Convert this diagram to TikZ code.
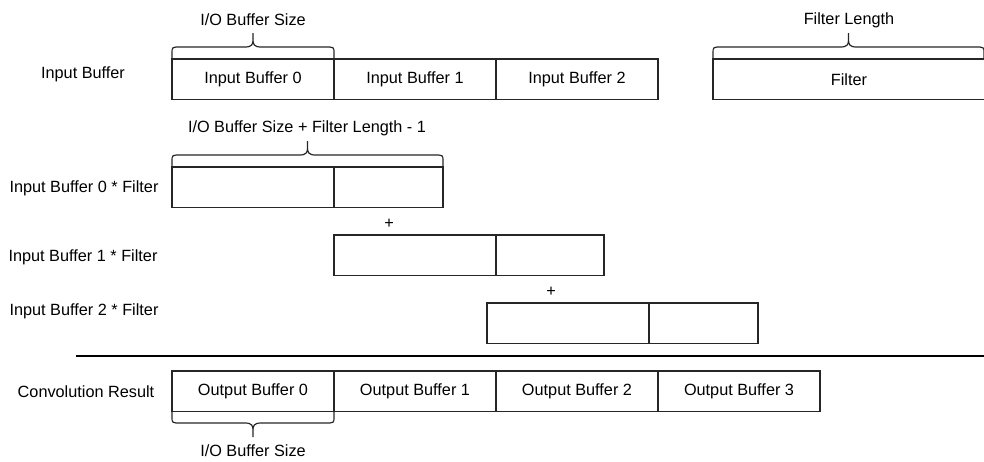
\documentclass[tikz,border=0pt]{standalone}
\usepackage{fontspec}
\setmainfont{Liberation Sans}
\newlength\pxu
\setlength\pxu{0.75pt}
% curly brace: #1 left x, #2 right x, #3 foot y, #4 bar y, #5 tip y
\newcommand\curlybrace[5]{%
  \pgfmathsetmacro\bmid{(#1+#2)/2}%
  \pgfmathsetmacro\bh{#3-#4}%
  \pgfmathsetmacro\bt{#4-#5}%
  \draw[bracestroke] (#1,#3) -- (#1,{#4+0.5*\bh})
    .. controls (#1,#4) .. ({#1+9},#4) -- ({\bmid-8},#4)
    .. controls ({\bmid-1},#4) and (\bmid,{#4-0.2*\bt}) .. (\bmid,{#4-0.5*\bt})
    -- (\bmid,#5) -- (\bmid,{#4-0.5*\bt})
    .. controls (\bmid,{#4-0.2*\bt}) and ({\bmid+1},#4) .. ({\bmid+8},#4)
    -- ({#2-9},#4) .. controls (#2,#4) .. (#2,{#4+0.5*\bh}) -- (#2,#3);%
}
\tikzset{
  cell/.style={draw=black!85, line width=0.9pt, anchor=north west,
    inner sep=0pt, outer sep=0pt, minimum height=40.5*\pxu,
    font=\fontsize{12.2}{14}\selectfont},
  wide/.style={minimum width=162*\pxu},
  label/.style={inner sep=0pt, font=\fontsize{12.2}{14}\selectfont},
  bracestroke/.style={draw=black!85, line width=0.9pt},
  rule/.style={draw=black, line width=1.6pt}
}
\begin{document}
\begin{tikzpicture}[x=0.75pt, y=-0.75pt]
\useasboundingbox (0,0) rectangle (984,461);

% input buffers and the filter
\node[cell, wide] (ib0) at (172,59) {Input Buffer 0};
\node[cell, wide] (ib1) at (334,59) {Input Buffer 1};
\node[cell, wide] (ib2) at (496,59) {Input Buffer 2};
\node[cell, minimum width=272*\pxu] (flt) at (713,59) {Filter};
\node[label] (lin) at (83,74) {Input Buffer};
\curlybrace{172}{334}{59}{47}{33}
\node[label] (lio) at (253,20) {I/O Buffer Size};
\curlybrace{713}{984}{59}{47}{33}
\node[label] (lfl) at (849,20) {Filter Length};

% partial convolutions
\node[cell, wide] (p0a) at (172,167) {};
\node[cell, minimum width=109*\pxu] (p0b) at (334,167) {};
\node[label] (l0) at (84,188) {Input Buffer 0 * Filter};
\curlybrace{172}{443}{167}{155}{141}
\node[label] (lsum) at (307,128) {I/O Buffer Size + Filter Length - 1};

\node[label] (plus1) at (389,224) {+};
\node[cell, wide] (p1a) at (334,235) {};
\node[cell, minimum width=108*\pxu] (p1b) at (496,235) {};
\node[label] (l1) at (83,257) {Input Buffer 1 * Filter};

\node[label] (plus2) at (551,292) {+};
\node[cell, wide] (p2a) at (487,303) {};
\node[cell, minimum width=109*\pxu] (p2b) at (649,303) {};
\node[label] (l2) at (84,311) {Input Buffer 2 * Filter};

% separator
\coordinate (sepL) at (76,356);
\coordinate (sepR) at (985,356);
\draw[rule] (sepL) -- (sepR);

% convolution result
\node[cell, wide] (ob0) at (172,371) {Output Buffer 0};
\node[cell, wide] (ob1) at (334,371) {Output Buffer 1};
\node[cell, wide] (ob2) at (496,371) {Output Buffer 2};
\node[cell, wide] (ob3) at (658,371) {Output Buffer 3};
\node[label] (lres) at (86,392) {Convolution Result};
\curlybrace{172}{334}{411}{423}{437}
\node[label] (lio2) at (253,451) {I/O Buffer Size};
\end{tikzpicture}
\end{document}
